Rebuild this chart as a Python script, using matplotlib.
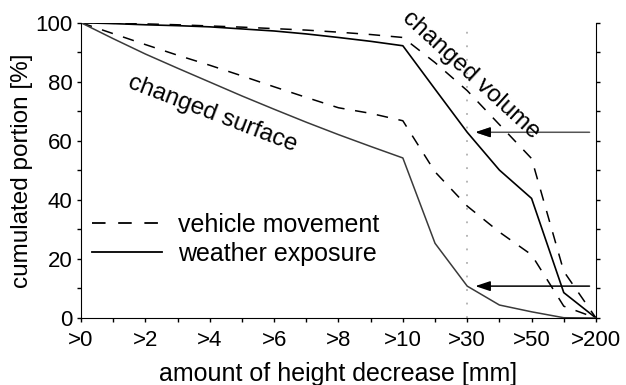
import matplotlib
matplotlib.use('Agg')
import matplotlib.pyplot as plt

plt.rcParams['font.family'] = ['Liberation Sans', 'DejaVu Sans']

# height decrease classes [mm]
categories = ['>0', '>1', '>2', '>3', '>4', '>5', '>6', '>7', '>8', '>9',
              '>10', '>20', '>30', '>40', '>50', '>100', '>200']

# cumulated portion [%]
vehicle_volume = [100, 99.8, 99.6, 99.3, 98.9, 98.5, 98.0, 97.5, 96.8, 96.0,
                  95.0, 86.5, 77.0, 65.5, 54.0, 15.8, 0]
weather_volume = [100, 99.7, 99.3, 99.0, 98.6, 97.9, 97.2, 96.2, 95.0, 93.7,
                  92.2, 77.5, 62.9, 50.1, 40.5, 8.6, 0]
vehicle_surface = [100, 96.3, 92.6, 89.0, 85.6, 82.0, 78.3, 74.7, 71.2, 69.3,
                   66.8, 49.5, 37.9, 29.1, 21.4, 4.0, 0]
weather_surface = [100, 94.6, 89.4, 84.6, 79.9, 75.2, 70.7, 66.3, 62.1, 58.1,
                   54.2, 25.3, 10.8, 4.4, 2.1, 0.1, 0]

marked_class = '>30'


def main():
    fig = plt.figure(figsize=(6.26, 3.85), dpi=100)
    ax = fig.add_axes([0.1294, 0.174, 0.8226, 0.767])

    x = list(range(len(categories)))
    dash = (0, (7.5, 7))

    ax.plot(x, vehicle_volume, color='black', lw=1.1, linestyle=dash)
    ax.plot(x, vehicle_surface, color='black', lw=1.1, linestyle=dash)
    ax.plot(x, weather_volume, color='black', lw=1.2)
    ax.plot(x, weather_surface, color='#3a3a3a', lw=1.1)

    # marked class and arrows pointing at the weather curves
    im = categories.index(marked_class)
    ax.axvline(im, color='#b0b0b0', lw=1.3, linestyle=(0, (1, 6.5)), zorder=0)
    for yv, col in [(weather_volume[im], '#555555'), (weather_surface[im], 'black')]:
        ax.annotate('', xy=(im + 0.25, yv), xytext=(len(x) - 1.2, yv),
                    arrowprops=dict(arrowstyle='-|>,head_length=0.6,head_width=0.2',
                                    color=col, lw=1.1, mutation_scale=15,
                                    shrinkA=0, shrinkB=0))
    ax.annotate('', xy=(im + 0.25, weather_volume[im]), xytext=(im + 0.7, weather_volume[im]),
                arrowprops=dict(arrowstyle='-|>,head_length=0.6,head_width=0.2',
                                color='black', lw=1.1, mutation_scale=15,
                                shrinkA=0, shrinkB=0))

    ax.text(4.08, 69.3, 'changed surface', rotation=-21, fontsize=17.5,
            ha='center', va='center', rotation_mode='anchor')
    ax.text(12.13, 82.3, 'changed volume', rotation=-42.5, fontsize=17.5,
            ha='center', va='center', rotation_mode='anchor')

    ax.set_xlim(0, len(x) - 1)
    ax.set_ylim(0, 100)
    ax.set_xticks(x)
    ax.set_xticklabels([c if i % 2 == 0 else '' for i, c in enumerate(categories)],
                       fontsize=16)
    ax.set_yticks(range(0, 101, 10))
    ax.set_yticklabels([str(v) if v % 20 == 0 else '' for v in range(0, 101, 10)],
                       fontsize=16)
    ax.tick_params(direction='out', length=3, width=1, right=True, labelright=False)
    ax.tick_params(axis='x', pad=5.5)
    ax.tick_params(axis='y', pad=3)
    ax.spines['top'].set_visible(False)

    ax.set_xlabel('amount of height decrease [mm]', fontsize=18, labelpad=8)
    ax.set_ylabel('cumulated portion [%]', fontsize=17.5, labelpad=2)

    ax.plot([], [], color='black', lw=1.3, linestyle=dash, label='vehicle movement')
    ax.plot([], [], color='black', lw=1.3, label='weather exposure')
    handles, labels = ax.get_legend_handles_labels()
    ax.legend(handles, labels, loc='upper left', bbox_to_anchor=(0.0, 0.395),
              frameon=False, fontsize=18, handlelength=2.8, handletextpad=0.64,
              labelspacing=0.2, borderaxespad=0.15, borderpad=0.3)

    fig.savefig('out.png', dpi=100)


if __name__ == '__main__':
    main()
